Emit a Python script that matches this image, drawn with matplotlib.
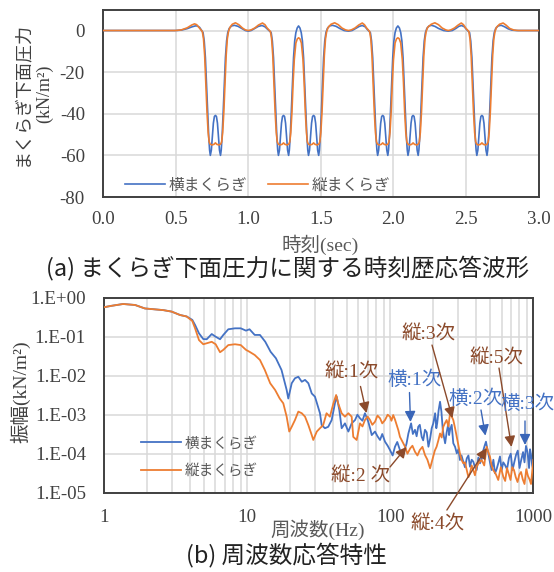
import matplotlib
matplotlib.use("Agg")
import matplotlib.pyplot as plt
from matplotlib.ticker import FixedLocator, NullFormatter

plt.rcParams['font.family'] = ['Liberation Serif', 'Noto Sans CJK JP']
CJK = ['Noto Sans CJK JP', 'DejaVu Sans']
MIX = ['Liberation Serif', 'Noto Sans CJK JP']

BLUE = '#4472C4'
ORANGE = '#ED7D31'
BROWN = '#8B4A2B'
ABLUE = '#3A66B8'
GRID = '#d9d9d9'
TXT = '#404040'

t_yoko = [0.0, 0.5, 0.54, 0.58, 0.61, 0.635, 0.65, 0.665, 0.689, 0.697, 0.705, 0.713, 0.721, 0.728, 0.734, 0.739, 0.746, 0.753, 0.760, 0.767, 0.774, 0.781, 0.788, 0.795, 0.802, 0.809, 0.814, 0.820, 0.827, 0.835, 0.843, 0.851, 0.859, 0.869, 0.885, 0.905, 0.93, 0.955, 0.98, 1.0, 1.02, 1.045, 1.07, 1.095, 1.115, 1.135, 1.158, 1.166, 1.174, 1.182, 1.190, 1.197, 1.203, 1.208, 1.215, 1.222, 1.229, 1.236, 1.243, 1.250, 1.257, 1.264, 1.271, 1.278, 1.283, 1.289, 1.296, 1.304, 1.312, 1.320, 1.328, 1.337, 1.3465, 1.356, 1.365, 1.373, 1.381, 1.389, 1.397, 1.404, 1.410, 1.415, 1.422, 1.429, 1.436, 1.443, 1.450, 1.457, 1.464, 1.471, 1.478, 1.485, 1.490, 1.496, 1.503, 1.511, 1.519, 1.527, 1.535, 1.545, 1.56, 1.58, 1.605, 1.63, 1.66, 1.69, 1.715, 1.74, 1.765, 1.785, 1.805, 1.82, 1.841, 1.849, 1.857, 1.865, 1.873, 1.880, 1.886, 1.891, 1.898, 1.905, 1.912, 1.919, 1.926, 1.933, 1.940, 1.947, 1.954, 1.961, 1.966, 1.972, 1.979, 1.987, 1.995, 2.003, 2.011, 2.020, 2.0305, 2.041, 2.050, 2.058, 2.066, 2.074, 2.082, 2.089, 2.095, 2.100, 2.107, 2.114, 2.121, 2.128, 2.135, 2.142, 2.149, 2.156, 2.163, 2.170, 2.175, 2.181, 2.188, 2.196, 2.204, 2.212, 2.220, 2.230, 2.245, 2.262, 2.285, 2.31, 2.345, 2.377, 2.405, 2.43, 2.45, 2.469, 2.488, 2.503, 2.524, 2.532, 2.540, 2.548, 2.556, 2.563, 2.569, 2.574, 2.581, 2.588, 2.595, 2.602, 2.609, 2.616, 2.623, 2.630, 2.637, 2.644, 2.649, 2.655, 2.662, 2.670, 2.678, 2.686, 2.694, 2.704, 2.72, 2.742, 2.765, 2.79, 2.815, 2.85, 3.0]
v_yoko = [0, 0, 0.2, 0.9, 1.7, 2.2, 2.2, 1.5, -1, -5, -13, -26, -40, -51, -57.5, -60, -57.5, -51, -44.5, -41.3, -40.8, -41.3, -44.5, -51, -57.5, -60, -57.5, -51, -40, -26, -13, -5, -1, 1.0, 2.2, 2.5, 2.0, 1.0, 0.0, -0.3, 0.0, 1.0, 2.0, 2.4, 1.8, 0.5, -1, -5, -13, -26, -40, -51, -57.5, -60, -57.5, -51, -44.5, -41.3, -40.8, -41.3, -44.5, -51, -57.5, -60, -57.5, -51, -40, -26, -13, -5, -1, 1.2, 2.2, 1.2, -1, -5, -13, -26, -40, -51, -57.5, -60, -57.5, -51, -44.5, -41.3, -40.8, -41.3, -44.5, -51, -57.5, -60, -57.5, -51, -40, -26, -13, -5, -1, 1.0, 2.2, 2.5, 2.0, 1.0, 0.0, -0.3, 0.0, 1.0, 2.0, 2.4, 1.8, 0.5, -1, -5, -13, -26, -40, -51, -57.5, -60, -57.5, -51, -44.5, -41.3, -40.8, -41.3, -44.5, -51, -57.5, -60, -57.5, -51, -40, -26, -13, -5, -1, 1.2, 2.2, 1.2, -1, -5, -13, -26, -40, -51, -57.5, -60, -57.5, -51, -44.5, -41.3, -40.8, -41.3, -44.5, -51, -57.5, -60, -57.5, -51, -40, -26, -13, -5, -1, 1.0, 2.2, 2.5, 2.0, 1.0, 0.0, -0.3, 0.0, 1.0, 2.0, 2.4, 1.8, 0.5, -1, -5, -13, -26, -40, -51, -57.5, -60, -57.5, -51, -44.5, -41.3, -40.8, -41.3, -44.5, -51, -57.5, -60, -57.5, -51, -40, -26, -13, -5, -1, 1.0, 2.2, 2.5, 1.8, 0.8, 0.2, 0.0, 0.0]

t_tate = [0.0, 0.5, 0.54, 0.58, 0.61, 0.63, 0.645, 0.66, 0.684, 0.692, 0.700, 0.708, 0.716, 0.724, 0.731, 0.737, 0.749, 0.764, 0.774, 0.784, 0.799, 0.811, 0.817, 0.824, 0.832, 0.840, 0.848, 0.856, 0.864, 0.874, 0.89, 0.912, 0.935, 0.96, 0.98, 1.0, 1.02, 1.045, 1.07, 1.098, 1.115, 1.13, 1.153, 1.161, 1.169, 1.177, 1.185, 1.193, 1.200, 1.206, 1.218, 1.233, 1.243, 1.253, 1.268, 1.280, 1.286, 1.293, 1.301, 1.309, 1.317, 1.328, 1.338, 1.347, 1.356, 1.366, 1.377, 1.385, 1.393, 1.401, 1.407, 1.413, 1.425, 1.440, 1.450, 1.460, 1.475, 1.487, 1.493, 1.500, 1.508, 1.516, 1.524, 1.532, 1.540, 1.550, 1.57, 1.595, 1.62, 1.645, 1.67, 1.69, 1.71, 1.735, 1.76, 1.785, 1.80, 1.815, 1.836, 1.844, 1.852, 1.860, 1.868, 1.876, 1.883, 1.889, 1.901, 1.916, 1.926, 1.936, 1.951, 1.963, 1.969, 1.976, 1.984, 1.992, 2.000, 2.011, 2.021, 2.0305, 2.040, 2.050, 2.061, 2.069, 2.077, 2.085, 2.092, 2.098, 2.110, 2.125, 2.135, 2.145, 2.160, 2.172, 2.178, 2.185, 2.193, 2.201, 2.209, 2.217, 2.225, 2.235, 2.26, 2.285, 2.31, 2.335, 2.36, 2.377, 2.395, 2.42, 2.445, 2.467, 2.482, 2.497, 2.519, 2.527, 2.535, 2.543, 2.551, 2.559, 2.566, 2.572, 2.584, 2.599, 2.609, 2.619, 2.634, 2.646, 2.652, 2.659, 2.667, 2.675, 2.683, 2.691, 2.699, 2.709, 2.73, 2.755, 2.775, 2.80, 2.83, 2.86, 3.0]
v_tate = [0, 0, 0.3, 1.3, 2.6, 3.2, 2.8, 1.5, -0.5, -4, -12, -25, -39, -49, -53.5, -54.5, -55, -54.7, -54, -54.7, -55, -54.5, -53.5, -49, -39, -25, -12, -4, -0.5, 1.5, 3.0, 3.7, 2.8, 1.2, 0.3, 0.0, 0.3, 1.2, 2.6, 3.6, 2.8, 1.2, -0.5, -4, -12, -25, -39, -49, -53.5, -54.5, -55, -54.7, -54, -54.7, -55, -54.5, -53.5, -49, -39, -25, -14, -6, -4, -3.5, -4, -6, -14, -25, -39, -49, -53.5, -54.5, -55, -54.7, -54, -54.7, -55, -54.5, -53.5, -49, -39, -25, -12, -4, -0.5, 1.5, 3.0, 3.7, 2.8, 1.2, 0.3, 0.0, 0.3, 1.2, 2.6, 3.6, 2.8, 1.2, -0.5, -4, -12, -25, -39, -49, -53.5, -54.5, -55, -54.7, -54, -54.7, -55, -54.5, -53.5, -49, -39, -25, -14, -6, -4, -3.5, -4, -6, -14, -25, -39, -49, -53.5, -54.5, -55, -54.7, -54, -54.7, -55, -54.5, -53.5, -49, -39, -25, -12, -4, -0.5, 1.5, 3.0, 3.7, 2.8, 1.2, 0.3, 0.0, 0.3, 1.2, 2.6, 3.6, 2.8, 1.2, -0.5, -4, -12, -25, -39, -49, -53.5, -54.5, -55, -54.7, -54, -54.7, -55, -54.5, -53.5, -49, -39, -25, -12, -4, -0.5, 1.5, 3.0, 3.6, 2.6, 1.0, 0.2, 0.0, 0.0]

time_ticks = [0.0, 0.5, 1.0, 1.5, 2.0, 2.5, 3.0]
time_ticklabels = ['0.0', '0.5', '1.0', '1.5', '2.0', '2.5', '3.0']
pres_ticks = [-80, -60, -40, -20, 0]

f_yoko = [1.00, 1.13, 1.36, 1.65, 1.93, 2.60, 2.97, 3.40, 3.78, 4.14, 4.33, 4.61, 4.94, 5.22, 5.66,
          6.03, 6.47, 6.82, 7.39, 8.23, 9.03, 9.82, 10.4, 11.3, 12.3, 13.4, 14.6, 15.9, 17.4, 18.9,
          19.4, 20.5, 21.6, 22.8, 24.1, 25.4, 26.8, 28.3, 29.8, 32.3, 33.2, 35.0, 36.9, 39.0, 41.1,
          42.3, 44.1, 45.8, 48.3, 51.0, 53.8, 56.8, 59.0, 61.5, 64.0, 66.6, 70.3, 72.3, 74.3, 78.3, 81.5,
          84.9, 88.0, 92.0, 96.0, 99.7, 104, 108, 112, 117, 122, 127, 130, 134, 137, 140, 144, 149, 153,
          157, 161, 166, 170, 175, 180, 185, 190, 195, 200, 206, 210, 213, 218, 223, 228, 233, 237,
          242, 248, 255, 258, 262, 269, 276, 284, 292, 300, 307, 315, 324, 333, 343, 352, 361, 371,
          381, 391, 402, 413, 424, 436, 448, 457, 467, 476, 485, 498, 512, 526, 540, 554, 569, 585,
          601, 617, 634, 655, 676, 696, 716, 736, 757, 779, 801, 824, 848, 868, 889, 911, 934, 949,
          964, 982, 1000]
a_yoko = [0.57, 0.62, 0.69, 0.65, 0.53, 0.48, 0.44, 0.36, 0.33, 0.27, 0.20, 0.122, 0.087, 0.086, 0.117,
          0.100, 0.086, 0.111, 0.155, 0.164, 0.164, 0.143, 0.155, 0.111, 0.111, 0.074, 0.041, 0.028, 0.014, 0.0043,
          0.0026, 0.0064, 0.0086, 0.0094, 0.0070, 0.0078, 0.0064, 0.0035, 0.0029, 0.00109, 0.00054, 0.00045, 0.00049, 0.00073, 0.00196,
          0.0029, 0.00132, 0.00045, 0.0006, 0.00037, 0.0006, 0.00073, 0.0010, 0.00081, 0.0007, 0.00109, 0.00066, 0.00045, 0.0003, 0.00037, 0.00028,
          0.000225, 0.00032, 0.000203, 0.00016, 0.000124, 0.00009, 0.000151, 0.0002, 0.000124, 0.0001, 0.000137, 0.00018, 0.00033, 0.00045, 0.0006, 0.00032, 0.00041, 0.00028,
          0.00049, 0.00055, 0.00027, 0.00022, 0.00041, 0.00035, 0.000151, 0.00024, 0.00045, 0.0006, 0.00109, 0.00045, 0.0006, 0.0013, 0.00215, 0.0012, 0.00041, 0.00028,
          0.000185, 0.00035, 0.0006, 0.0003, 0.00041, 0.00055, 0.000185, 0.00015, 0.000102, 0.00013, 0.0000689, 0.00009, 0.0000624, 0.000045, 0.0000762, 0.00009, 0.0000464, 0.00007,
          0.0000624, 0.000045, 0.0000382, 0.00008, 0.0000567, 0.000075, 0.000124, 0.00016, 0.000203, 0.00014, 0.000102, 0.00006, 0.000038, 0.00007, 0.0000314, 0.00004, 0.0000567, 0.000085,
          0.000038, 0.00006, 0.0000513, 0.00004, 0.0000776, 0.0001, 0.000038, 0.00006, 0.0000927, 0.00012, 0.000043, 0.00007, 0.00011, 0.00006, 0.000158, 0.00011, 0.000043, 0.00013,
          0.0000927, 0.00005, 0.000038]

f_tate = [1.00, 1.13, 1.36, 1.65, 1.93, 2.60, 2.97, 3.40, 3.78, 4.14, 4.33, 4.61, 4.94, 5.22, 5.66,
          6.03, 6.47, 6.82, 7.39, 8.23, 9.03, 9.82, 10.4, 11.3, 12.3, 13.3, 14.5, 15.7, 16.9, 17.9,
          18.9, 19.7, 20.5, 21.6, 22.8, 24.1, 25.4, 26.8, 28.3, 29.0, 30.7, 32.3, 34.0, 35.9, 37.9,
          40.1, 41.9, 43.3, 45.8, 48.3, 51.0, 53.8, 55.2, 58.3, 61.5, 64.0, 66.6, 69.5, 72.3, 75.0, 78.3,
          81.5, 84.9, 88.0, 92.0, 96.0, 99.7, 102, 105, 108, 111, 114, 117, 122, 127, 132, 138, 143,
          149, 155, 161, 168, 175, 182, 190, 195, 200, 205, 211, 217, 223, 229, 235, 241, 248, 255,
          262, 269, 276, 284, 292, 300, 307, 315, 324, 333, 343, 352, 361, 371, 381, 391, 402, 418,
          436, 454, 472, 485, 498, 511, 525, 547, 569, 593, 617, 636, 655, 674, 693, 713, 733, 754,
          776, 798, 821, 844, 868, 893, 918, 941, 964, 982, 1000]
a_tate = [0.57, 0.62, 0.69, 0.65, 0.53, 0.48, 0.44, 0.36, 0.33, 0.253, 0.164, 0.082, 0.064, 0.068, 0.074,
          0.064, 0.040, 0.046, 0.061, 0.064, 0.061, 0.046, 0.041, 0.034, 0.0253, 0.014, 0.0064, 0.0043, 0.0026, 0.00196,
          0.00089, 0.00037, 0.00049, 0.00073, 0.0012, 0.00109, 0.00089, 0.00054, 0.0003, 0.000225, 0.00037, 0.00045, 0.00054, 0.00109, 0.00089,
          0.00196, 0.0032, 0.00196, 0.00109, 0.00089, 0.00109, 0.00089, 0.00027, 0.000225, 0.0006, 0.0005, 0.00073, 0.0009, 0.00073, 0.00055, 0.00066,
          0.00095, 0.00081, 0.0006, 0.00073, 0.0010, 0.00089, 0.0007, 0.00098, 0.00075, 0.00054, 0.0004, 0.00027, 0.0002, 0.000151, 0.0001, 0.000137, 0.00016,
          0.000112, 0.00009, 0.000124, 0.00015, 0.0000927, 0.00007, 0.0000423, 0.00006, 0.0000838, 0.00012, 0.000151, 0.00022, 0.00033, 0.00026, 0.00049, 0.0006, 0.00073, 0.0005,
          0.00109, 0.0009, 0.00073, 0.00045, 0.00027, 0.00016, 0.000102, 0.00007, 0.0000567, 0.00006, 0.000038, 0.000025, 0.0000314, 0.00005, 0.000038, 0.000028, 0.0000464, 0.00006,
          0.0000689, 0.00005, 0.000151, 0.00011, 0.0000838, 0.00005, 0.000038, 0.00003, 0.0000212, 0.000045, 0.0000257, 0.00002, 0.000043, 0.00003, 0.0000212, 0.000045, 0.000038, 0.000025,
          0.0000188, 0.000029, 0.000034, 0.000022, 0.0000167, 0.00004, 0.0000268, 0.000022, 0.0000167, 0.000035, 0.0000692]

freq_ticks = [1, 10, 100, 1000]
freq_ticklabels = ['1', '10', '100', '1000']
amp_ticks = [1e-5, 1e-4, 1e-3, 1e-2, 1e-1, 1e0]
amp_ticklabels = ['1.E-05', '1.E-04', '1.E-03', '1.E-02', '1.E-01', '1.E+00']

annotations = [
    ('縦:1次', (53.7, 0.0121), (62, 0.0053), (68.3, 0.0011), 'tate'),
    ('横:1次', (149, 0.0080), (136.4, 0.0037), (138.6, 0.00065), 'yoko'),
    ('縦:3次', (185, 0.114), (196, 0.061), (272, 0.00082), 'tate'),
    ('縦:5次', (557, 0.0268), (576, 0.0157), (704, 0.000149), 'tate'),
    ('横:2次', (394, 0.00253), (431, 0.00132), (463, 0.00029), 'yoko'),
    ('横:3次', (905, 0.00196), (875, 0.00069), (875, 0.000167), 'yoko'),
    ('縦:2 次', (62.5, 0.0000257), (99.7, 0.0000456), (130, 0.000149), 'tate'),
    ('縦:4次', (216, 0.00000149), (249, 0.0000036), (472, 0.00014), 'tate'),
]

W, H = 554, 572
fig = plt.figure(figsize=(W / 100, H / 100), dpi=100)

def fx(px):
    return px / W

def fy(py):
    return 1 - py / H

ax1 = fig.add_axes([fx(103), fy(197), fx(538.7) - fx(103), fy(9.7) - fy(197)])
ax1.plot(t_yoko, v_yoko, color=BLUE, lw=1.2, label='横まくらぎ', zorder=3)
ax1.plot(t_tate, v_tate, color=ORANGE, lw=1.2, label='縦まくらぎ', zorder=3)
ax1.set_xlim(0, 3.0)
ax1.set_ylim(-80, 10)
ax1.set_xticks(time_ticks)
ax1.set_xticklabels(time_ticklabels)
ax1.set_yticks(pres_ticks)
ax1.set_yticklabels([str(v) for v in pres_ticks])
ax1.grid(True, color=GRID, lw=1.1)
ax1.set_axisbelow(True)
ax1.tick_params(length=0, labelsize=13.6, colors=TXT)
ax1.tick_params(axis='y', pad=13)
ax1.tick_params(axis='x', pad=10)
for s in ax1.spines.values():
    s.set_color('#404040')
    s.set_linewidth(1.4)
leg1 = ax1.legend(loc='center left', bbox_to_anchor=(0.0495, 0.064), ncol=2, frameon=False,
                  prop={'family': CJK, 'size': 11.3}, handlelength=2.6, handletextpad=0.2,
                  columnspacing=1.3, borderpad=0, borderaxespad=0)
for txt in leg1.get_texts():
    txt.set_color('#595959')

fig.text(fx(33.5), fy(94), 'まくらぎ下面圧力\n(kN/m²)', rotation=90, ha='center', va='center',
         family=MIX, fontsize=13, color='#404040', linespacing=1.35, multialignment='center')
fig.text(fx(320), fy(245), '時刻(sec)', ha='center', va='center', family=MIX, fontsize=14, color='#595959')
fig.text(fx(288), fy(268), '(a) まくらぎ下面圧力に関する時刻歴応答波形', ha='center', va='center',
         family=CJK, fontsize=17, color='#222222')

ax2 = fig.add_axes([fx(104), fy(492.7), fx(533.3) - fx(104), fy(297.7) - fy(492.7)])
ax2.plot(f_yoko, a_yoko, color=BLUE, lw=1.3, label='横まくらぎ', zorder=3)
ax2.plot(f_tate, a_tate, color=ORANGE, lw=1.3, label='縦まくらぎ', zorder=3)
ax2.set_xscale('log')
ax2.set_yscale('log')
ax2.set_xlim(1, 1000)
ax2.set_ylim(1e-5, 1e0)
ax2.xaxis.set_major_locator(FixedLocator(freq_ticks))
ax2.set_xticklabels(freq_ticklabels)
minor = [m * d for d in (1, 10, 100) for m in range(2, 10)]
ax2.xaxis.set_minor_locator(FixedLocator(minor))
ax2.xaxis.set_minor_formatter(NullFormatter())
ax2.yaxis.set_major_locator(FixedLocator(amp_ticks))
ax2.set_yticklabels(amp_ticklabels)
ax2.yaxis.set_minor_locator(FixedLocator([]))
ax2.grid(True, which='major', color=GRID, lw=1.1)
ax2.grid(True, which='minor', axis='x', color=GRID, lw=1.1)
ax2.set_axisbelow(True)
ax2.tick_params(which='both', length=0, labelsize=13.6, colors=TXT)
ax2.tick_params(axis='y', pad=13)
ax2.tick_params(axis='x', pad=11.5)
for s in ax2.spines.values():
    s.set_color('#404040')
    s.set_linewidth(1.4)
leg2 = ax2.legend(loc='center left', bbox_to_anchor=(0.087, 0.183), ncol=1, frameon=False,
                  prop={'family': CJK, 'size': 10.5}, handlelength=2.7, handletextpad=0.25,
                  labelspacing=0.93, borderpad=0, borderaxespad=0)
for txt in leg2.get_texts():
    txt.set_color('#595959')

for label, txy, tail, tip, kind in annotations:
    tc = BROWN if kind == 'tate' else BLUE
    ac = BROWN if kind == 'tate' else ABLUE
    ax2.annotate(label, xy=txy, ha='center', va='center', family=MIX, fontsize=14,
                 color=tc, annotation_clip=False, zorder=5)
    ax2.annotate('', xy=tip, xytext=tail, annotation_clip=False, zorder=5,
                 arrowprops=dict(arrowstyle='-|>', color=ac, lw=1.0, mutation_scale=16,
                                 shrinkA=0, shrinkB=0))

fig.text(fx(20.5), fy(392), '振幅(kN/m²)', rotation=90, ha='center', va='center',
         family=MIX, fontsize=14, color='#404040')
fig.text(fx(318), fy(530), '周波数(Hz)', ha='center', va='center', family=MIX, fontsize=14, color='#595959')
fig.text(fx(286), fy(555), '(b) 周波数応答特性', ha='center', va='center',
         family=CJK, fontsize=17, color='#222222')

fig.savefig('out.png', dpi=100)
